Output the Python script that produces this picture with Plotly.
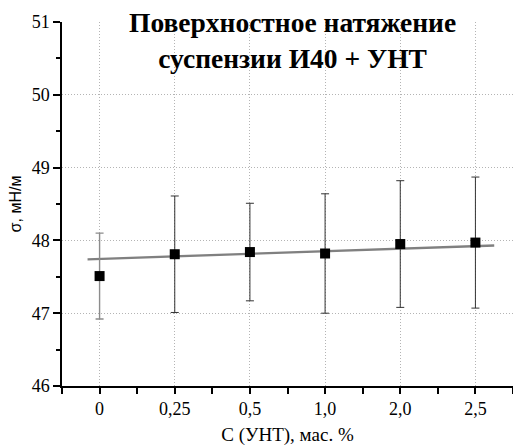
import plotly.graph_objects as go

categories = ["0", "0,25", "0,5", "1,0", "2,0", "2,5"]
sigma = [47.51, 47.81, 47.84, 47.82, 47.95, 47.97]
err = [0.59, 0.80, 0.67, 0.82, 0.87, 0.90]
fit_x = [-0.16, 5.25]
fit_y = [47.74, 47.93]
grid_y = [47, 48, 49, 50]

idx = list(range(len(categories)))

serif = "Liberation Serif"
sans = "Liberation Sans"
grid_color = "#b4b4b4"
grid_dash = "1px,2px"

fig = go.Figure()
fig.add_trace(go.Scatter(
    x=fit_x, y=fit_y, mode="lines",
    line=dict(color="#808080", width=2.4), showlegend=False, hoverinfo="skip"))
fig.add_trace(go.Scatter(
    x=idx[:1], y=sigma[:1], mode="markers",
    marker=dict(symbol="square", size=10, color="black"),
    error_y=dict(type="data", array=err[:1], color="#8c8c8c", thickness=1.4, width=4),
    showlegend=False))
fig.add_trace(go.Scatter(
    x=idx[1:], y=sigma[1:], mode="markers",
    marker=dict(symbol="square", size=10, color="black"),
    error_y=dict(type="data", array=err[1:], color="#333333", thickness=1, width=4),
    showlegend=False))
fig.add_trace(go.Scatter(x=[None], y=[None], yaxis="y2", showlegend=False, hoverinfo="skip"))

fig.add_annotation(
    text="<b>Поверхностное натяжение<br>суспензии И40 + УНТ</b>",
    font=dict(family=serif, size=27.5, color="black"),
    xref="paper", yref="paper", x=0.512, y=1.046, xanchor="center", yanchor="top",
    showarrow=False, align="center")

fig.update_layout(
    template="none",
    width=513, height=446,
    margin=dict(l=62, r=0, t=22, b=60),
    paper_bgcolor="white", plot_bgcolor="white",
    showlegend=False,
    xaxis=dict(
        range=[-0.5, 5.5], tickmode="array", tickvals=idx, ticktext=categories,
        showline=True, linecolor="black", linewidth=1.5,
        ticks="outside", ticklen=6, tickcolor="black", tickwidth=1.5,
        minor=dict(tickmode="linear", tick0=0.5, dtick=1, ticks="outside",
                   ticklen=6, tickcolor="black", tickwidth=1.5, showgrid=False),
        showgrid=True, gridcolor=grid_color, griddash=grid_dash, gridwidth=1,
        zeroline=False,
        tickfont=dict(family=serif, size=18, color="black"),
        title=dict(text="C (УНТ), мас. %", font=dict(family=serif, size=19, color="black"), standoff=13),
    ),
    yaxis=dict(
        range=[46, 51], tickmode="linear", tick0=46, dtick=1,
        showline=True, linecolor="black", linewidth=1.5,
        ticks="outside", ticklen=7, tickcolor="black", tickwidth=1.5,
        minor=dict(tickmode="linear", tick0=46.5, dtick=1, ticks="outside",
                   ticklen=4, tickcolor="black", tickwidth=1.5, showgrid=False),
        showgrid=False,
        zeroline=False,
        tickfont=dict(family=serif, size=18, color="black"),
        title=dict(text="σ, мН/м", font=dict(family=sans, size=16, color="black"), standoff=6),
    ),
    yaxis2=dict(
        overlaying="y", matches="y", side="right", tickmode="array", tickvals=grid_y,
        showticklabels=False, ticks="", showline=False, zeroline=False,
        showgrid=True, gridcolor=grid_color, griddash=grid_dash, gridwidth=1,
    ),
)

fig.write_html("out.html")
